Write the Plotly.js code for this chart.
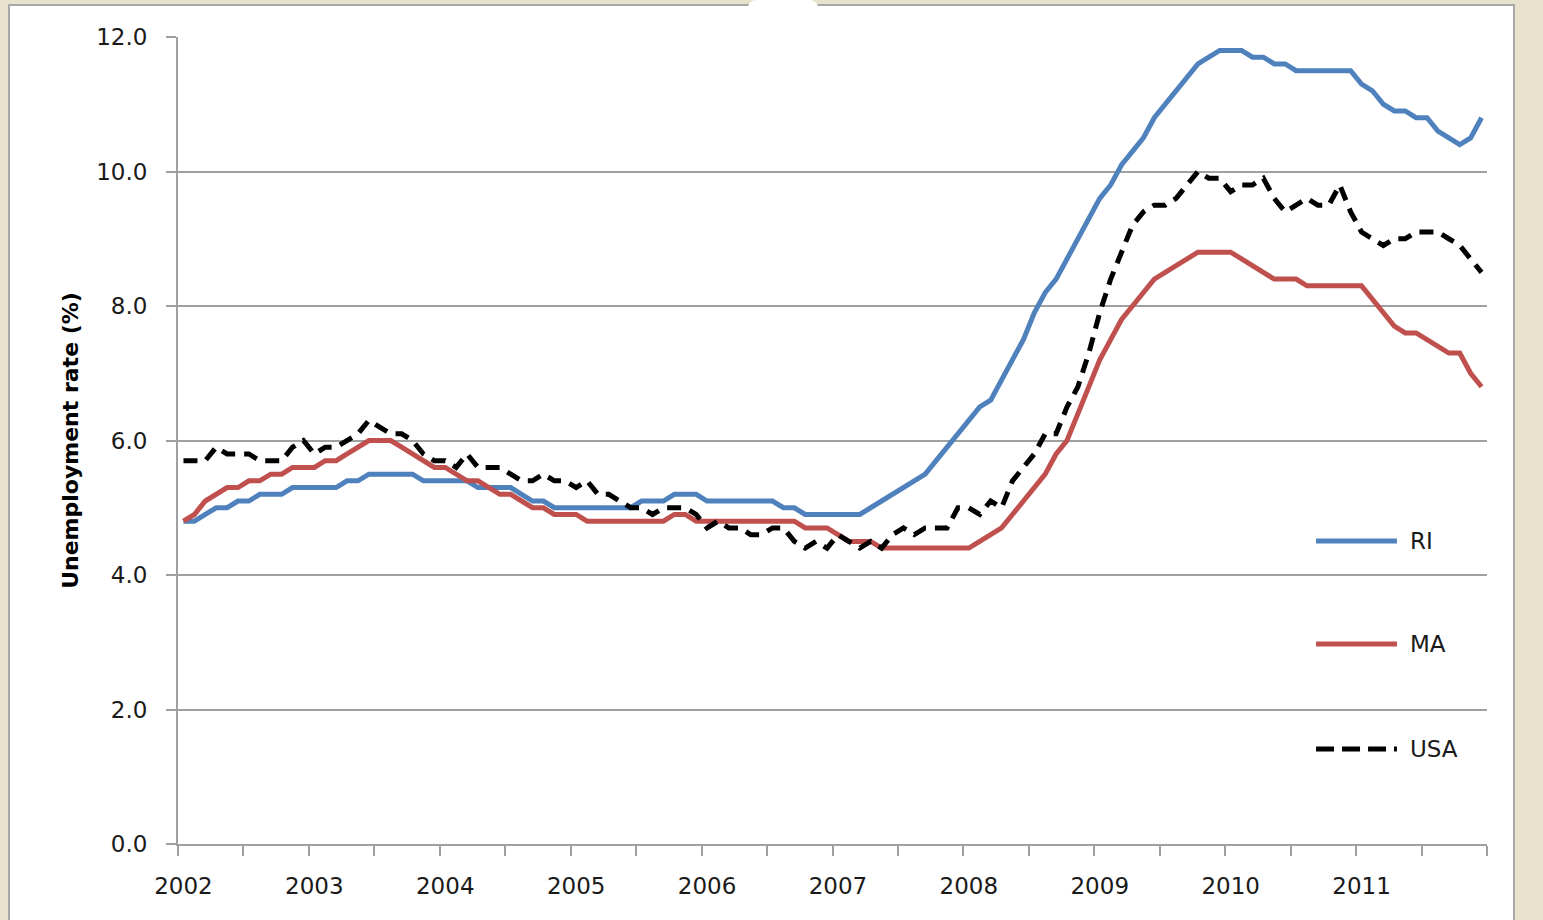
<!DOCTYPE html>
<html>
<head>
<meta charset="utf-8">
<script src="https://cdn.plot.ly/plotly-3.0.1.min.js"></script>
<style>
  html, body { margin:0; padding:0; width:1543px; height:920px; overflow:hidden; background:#e8e1cc; }
  #panel { position:absolute; left:8px; top:4px; width:1507px; height:940px; background:#ffffff; border:2px solid #a8a8a8; box-sizing:border-box; }
  #bump { position:absolute; left:748px; top:0px; width:70px; height:8px; background:#ffffff; border-radius:35px 35px 0 0; }
  #chart { position:absolute; left:0; top:0; width:1543px; height:920px; }
</style>
</head>
<body>
<div id="panel"></div>
<div id="bump"></div>
<div id="chart"></div>
<script>
// ---- data (monthly, Jan 2002 - Dec 2011) ----
const years = ['2002','2003','2004','2005','2006','2007','2008','2009','2010','2011'];
const seriesNames = ['RI', 'MA', 'USA'];

const ri = [
  4.8, 4.8, 4.9, 5.0, 5.0, 5.1, 5.1, 5.2, 5.2, 5.2, 5.3, 5.3,
  5.3, 5.3, 5.3, 5.4, 5.4, 5.5, 5.5, 5.5, 5.5, 5.5, 5.4, 5.4,
  5.4, 5.4, 5.4, 5.3, 5.3, 5.3, 5.3, 5.2, 5.1, 5.1, 5.0, 5.0,
  5.0, 5.0, 5.0, 5.0, 5.0, 5.0, 5.1, 5.1, 5.1, 5.2, 5.2, 5.2,
  5.1, 5.1, 5.1, 5.1, 5.1, 5.1, 5.1, 5.0, 5.0, 4.9, 4.9, 4.9,
  4.9, 4.9, 4.9, 5.0, 5.1, 5.2, 5.3, 5.4, 5.5, 5.7, 5.9, 6.1,
  6.3, 6.5, 6.6, 6.9, 7.2, 7.5, 7.9, 8.2, 8.4, 8.7, 9.0, 9.3,
  9.6, 9.8, 10.1, 10.3, 10.5, 10.8, 11.0, 11.2, 11.4, 11.6, 11.7, 11.8,
  11.8, 11.8, 11.7, 11.7, 11.6, 11.6, 11.5, 11.5, 11.5, 11.5, 11.5, 11.5,
  11.3, 11.2, 11.0, 10.9, 10.9, 10.8, 10.8, 10.6, 10.5, 10.4, 10.5, 10.8
];

const ma = [
  4.8, 4.9, 5.1, 5.2, 5.3, 5.3, 5.4, 5.4, 5.5, 5.5, 5.6, 5.6,
  5.6, 5.7, 5.7, 5.8, 5.9, 6.0, 6.0, 6.0, 5.9, 5.8, 5.7, 5.6,
  5.6, 5.5, 5.4, 5.4, 5.3, 5.2, 5.2, 5.1, 5.0, 5.0, 4.9, 4.9,
  4.9, 4.8, 4.8, 4.8, 4.8, 4.8, 4.8, 4.8, 4.8, 4.9, 4.9, 4.8,
  4.8, 4.8, 4.8, 4.8, 4.8, 4.8, 4.8, 4.8, 4.8, 4.7, 4.7, 4.7,
  4.6, 4.5, 4.5, 4.5, 4.4, 4.4, 4.4, 4.4, 4.4, 4.4, 4.4, 4.4,
  4.4, 4.5, 4.6, 4.7, 4.9, 5.1, 5.3, 5.5, 5.8, 6.0, 6.4, 6.8,
  7.2, 7.5, 7.8, 8.0, 8.2, 8.4, 8.5, 8.6, 8.7, 8.8, 8.8, 8.8,
  8.8, 8.7, 8.6, 8.5, 8.4, 8.4, 8.4, 8.3, 8.3, 8.3, 8.3, 8.3,
  8.3, 8.1, 7.9, 7.7, 7.6, 7.6, 7.5, 7.4, 7.3, 7.3, 7.0, 6.8
];

const usa = [
  5.7, 5.7, 5.7, 5.9, 5.8, 5.8, 5.8, 5.7, 5.7, 5.7, 5.9, 6.0,
  5.8, 5.9, 5.9, 6.0, 6.1, 6.3, 6.2, 6.1, 6.1, 6.0, 5.8, 5.7,
  5.7, 5.6, 5.8, 5.6, 5.6, 5.6, 5.5, 5.4, 5.4, 5.5, 5.4, 5.4,
  5.3, 5.4, 5.2, 5.2, 5.1, 5.0, 5.0, 4.9, 5.0, 5.0, 5.0, 4.9,
  4.7, 4.8, 4.7, 4.7, 4.6, 4.6, 4.7, 4.7, 4.5, 4.4, 4.5, 4.4,
  4.6, 4.5, 4.4, 4.5, 4.4, 4.6, 4.7, 4.6, 4.7, 4.7, 4.7, 5.0,
  5.0, 4.9, 5.1, 5.0, 5.4, 5.6, 5.8, 6.1, 6.1, 6.5, 6.8, 7.3,
  7.9, 8.4, 8.8, 9.2, 9.4, 9.5, 9.5, 9.6, 9.8, 10.0, 9.9, 9.9,
  9.7, 9.8, 9.8, 9.9, 9.6, 9.4, 9.5, 9.6, 9.5, 9.5, 9.8, 9.4,
  9.1, 9.0, 8.9, 9.0, 9.0, 9.1, 9.1, 9.1, 9.0, 8.9, 8.7, 8.5
];

// ---- positions derived from the data ----
const nMonths = ri.length;
const monthIdx = ri.map((_, i) => i);
const yearPos = years.map((_, k) => k * 12);
const halfYearTicks = [];
for (let t = 0; t <= nMonths; t += 6) halfYearTicks.push(t - 0.5);

// ---- styles ----
const colors = ['#4f81bd', '#c0504d', '#000000'];
const lineWidth = 5;
const axisGray = '#a0a0a0';
const chartDash = ['solid', 'solid', '14px,9px'];
const legendDash = ['solid', 'solid', '18px,8px'];

const values = [ri, ma, usa];
const traces = values.map((v, k) => ({
  type: 'scatter',
  mode: 'lines',
  name: seriesNames[k],
  x: monthIdx,
  y: v,
  xaxis: k === 2 ? 'x2' : 'x',
  yaxis: 'y',
  line: { color: colors[k], width: lineWidth, dash: chartDash[k] },
  hoverinfo: 'x+y+name'
}));

// legend drawn at right inside plot (paper coordinates)
const legendX0 = 0.8694, legendX1 = 0.9312, legendTextX = 0.9397;
const legendY = [0.3755, 0.2478, 0.1177];
const shapes = seriesNames.map((n, k) => ({
  type: 'line', xref: 'paper', yref: 'paper',
  x0: legendX0, x1: legendX1, y0: legendY[k], y1: legendY[k],
  line: { color: colors[k], width: lineWidth, dash: legendDash[k] }
}));
const annotations = seriesNames.map((n, k) => ({
  xref: 'paper', yref: 'paper', x: legendTextX, y: legendY[k],
  xanchor: 'left', yanchor: 'middle', showarrow: false,
  text: n, font: { size: 23, color: '#1a1a1a' }
}));

const xRange = [-0.5, nMonths - 0.5];

const layout = {
  width: 1543, height: 920,
  margin: { l: 178, r: 56, t: 37, b: 76, pad: 0 },
  paper_bgcolor: 'rgba(0,0,0,0)',
  plot_bgcolor: '#ffffff',
  showlegend: false,
  font: { family: 'DejaVu Sans, Verdana, sans-serif', size: 23, color: '#1a1a1a' },
  xaxis: {
    range: xRange, tickmode: 'array', tickvals: halfYearTicks, showticklabels: false,
    ticks: 'outside', ticklen: 10, tickwidth: 2, tickcolor: axisGray,
    showline: true, linecolor: axisGray, linewidth: 2,
    showgrid: false, zeroline: false, fixedrange: true
  },
  xaxis2: {
    overlaying: 'x', anchor: 'y', side: 'bottom',
    range: xRange, tickmode: 'array', tickvals: yearPos, ticktext: years,
    ticks: '', showline: false, showgrid: false, zeroline: false,
    ticklabelstandoff: 26, fixedrange: true
  },
  yaxis: {
    range: [0, 12], tickmode: 'linear', tick0: 0, dtick: 2, tickformat: '.1f',
    showgrid: true, gridcolor: axisGray, gridwidth: 2,
    showline: true, linecolor: axisGray, linewidth: 2,
    ticks: 'outside', ticklen: 10, tickwidth: 2, tickcolor: axisGray,
    zeroline: false, ticklabelstandoff: 14, fixedrange: true,
    title: { text: 'Unemployment rate (%)', standoff: 11,
             font: { size: 22, weight: 'bold', color: '#000000' } }
  },
  shapes: shapes,
  annotations: annotations
};

Plotly.newPlot('chart', traces, layout, { staticPlot: true, displayModeBar: false });
</script>
</body>
</html>
